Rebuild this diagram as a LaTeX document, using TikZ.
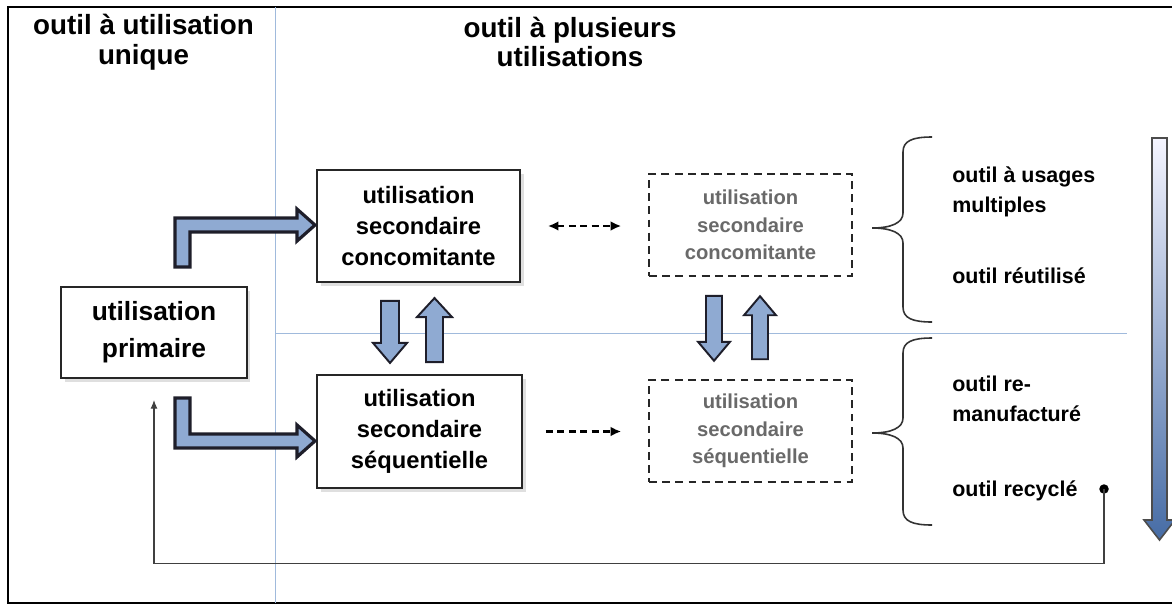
\documentclass[tikz,border=0pt]{standalone}
\usepackage{fontspec}
\setmainfont{Liberation Sans}
\usetikzlibrary{arrows.meta,calc,shadows}

\definecolor{boxblue}{RGB}{143,170,210}
\definecolor{arrowline}{RGB}{30,30,42}
\definecolor{divline}{RGB}{160,186,220}
\definecolor{deepblue}{RGB}{70,108,165}
\definecolor{palegray}{RGB}{105,105,105}

\tikzset{
  usebox/.style={draw=black!85, line width=1.1pt, fill=white, align=center, inner sep=0pt,
    drop shadow={shadow xshift=2pt, shadow yshift=-2pt, opacity=.25}},
  dashbox/.style={draw=black!85, line width=.9pt, dash pattern=on 4.5pt off 3pt,
    align=center, inner sep=0pt, text=palegray},
  blockarrow/.style={draw=arrowline, fill=boxblue, line join=miter},
  dasharrow/.style={line width=1.2pt, dash pattern=on 4pt off 2.5pt},
  heading/.style={font=\fontsize{15.8}{17}\selectfont\bfseries, align=center},
  lbl/.style={font=\fontsize{12.2}{17}\selectfont\bfseries, align=left, anchor=west, inner sep=0pt},
}

\begin{document}
\begin{tikzpicture}[x=0.02cm, y=-0.02cm, >={Latex[length=6pt,width=5.5pt]}]
	\useasboundingbox (0,0) rectangle (1172,605);
	% cadre et lignes de partage
	\draw[line width=1.2pt] (1172,7) -- (8,7) -- (8,603) -- (1172,603);
	\draw[divline, line width=.5pt] (275,7) -- (275,603);
	\draw[divline, line width=.5pt] (275,333) -- (1127,333);
	
	% titres
	\node[heading] (hleft) at (143.5,42) {outil à utilisation\\unique};
	\node[heading] (hright) at (570,42) {outil à plusieurs\\utilisations};
	
	% boites
	\node[usebox, minimum width=3.72cm, minimum height=1.82cm, font=\fontsize{15}{21}\selectfont\bfseries] (prim) at (154,332.5) {utilisation\\primaire};
	\node[usebox, minimum width=4.06cm, minimum height=2.24cm, font=\fontsize{13.5}{17.6}\selectfont\bfseries] (conc) at (418.5,226) {utilisation\\secondaire\\concomitante};
	\node[usebox, minimum width=4.1cm, minimum height=2.26cm, font=\fontsize{13.5}{17.6}\selectfont\bfseries] (sequ) at (419.5,431.5) {utilisation\\secondaire\\séquentielle};
	\node[dashbox, minimum width=4.06cm, minimum height=2.04cm, font=\fontsize{11.5}{15.6}\selectfont\bfseries] (dconc) at (750.5,225) {utilisation\\secondaire\\concomitante};
	\node[dashbox, minimum width=4.06cm, minimum height=2.04cm, font=\fontsize{11.5}{15.6}\selectfont\bfseries] (dsequ) at (750.5,431) {utilisation\\secondaire\\séquentielle};
	
	% fleches en L
	\draw[blockarrow, line width=1.8pt] ($(prim.north)+(21,-19)$) -- ++(0,-49) -- ++(122,0) -- ++(0,-9) -- ++(18,16) -- ++(-18,16) -- ++(0,-9) -- ++(-107,0) -- ++(0,35) -- cycle;
	\draw[blockarrow, line width=1.8pt] ($(prim.south)+(21,19)$) -- ++(0,50) -- ++(122,0) -- ++(0,9) -- ++(18,-16) -- ++(-18,-16) -- ++(0,9) -- ++(-107,0) -- ++(0,-36) -- cycle;
	
	% fleches verticales
	\draw[blockarrow, line width=1.1pt] ($(conc.south)+(-37.5,18)$) -- ++(18,0) -- ++(0,42) -- ++(8,0) -- ++(-17,20) -- ++(-17,-20) -- ++(8,0) -- cycle;
	\draw[blockarrow, line width=1.1pt] ($(sequ.north)+(6.5,-12)$) -- ++(17,0) -- ++(0,-45) -- ++(9,0) -- ++(-17.5,-19) -- ++(-17.5,19) -- ++(9,0) -- cycle;
	\draw[blockarrow, line width=1.1pt] ($(dconc.south)+(-44.5,19)$) -- ++(16,0) -- ++(0,46) -- ++(8,0) -- ++(-16,19) -- ++(-16,-19) -- ++(8,0) -- cycle;
	\draw[blockarrow, line width=1.1pt] ($(dsequ.north)+(1.5,-20)$) -- ++(16,0) -- ++(0,-44) -- ++(8,0) -- ++(-16,-19) -- ++(-16,19) -- ++(8,0) -- cycle;
	
	% fleches pointillees
	\draw[dasharrow, <->] ($(conc.east)+(27,0)$) -- ($(dconc.west |- conc.east)+(-27,0)$);
	\draw[dasharrow, ->] ($(sequ.east)+(23,0)$) -- ($(dsequ.west |- sequ.east)+(-27,0)$);
	
	% accolades
	\draw[line width=.9pt, black!80] (932,137) .. controls (912,137) and (903,141) .. (903,152) -- (903,213) .. controls (903,223) and (891,228) .. (872,228) .. controls (891,228) and (903,233) .. (903,243) -- (903,307) .. controls (903,318) and (912,322) .. (932,322);
	\draw[line width=.9pt, black!80] (932,338) .. controls (912,338) and (903,342) .. (903,353) -- (903,418) .. controls (903,428) and (891,433) .. (872,433) .. controls (891,433) and (903,438) .. (903,448) -- (903,510) .. controls (903,521) and (912,525) .. (932,525);
	
	% types d'outil
	\node[lbl] (t1) at (952,192) {outil à usages\\multiples};
	\node[lbl] (t2) at (952,276) {outil réutilisé};
	\node[lbl] (t3) at (952,399) {outil re-\\manufacturé};
	\node[lbl] (t4) at (952,491) {outil recyclé};
	\node[circle, fill=black, inner sep=0pt, minimum size=0.19cm] (dot) at (1104,489) {};
	
	% retour
	\coordinate (back) at ($(prim.south)+(0,185)$);
	\draw[black!75, line width=.6pt, -{Latex[length=5pt,width=4pt]}] (dot.center) |- (back) -- ($(prim.south)+(0,21)$);
	
	% grande fleche
	\shade[top color=blue!4!white, bottom color=deepblue, draw=black!70, line width=.9pt] (1152,138) -- (1167,138) -- (1167,520) -- (1175,520) -- (1159.5,540) -- (1144,520) -- (1152,520) -- cycle;
\end{tikzpicture}
\end{document}
